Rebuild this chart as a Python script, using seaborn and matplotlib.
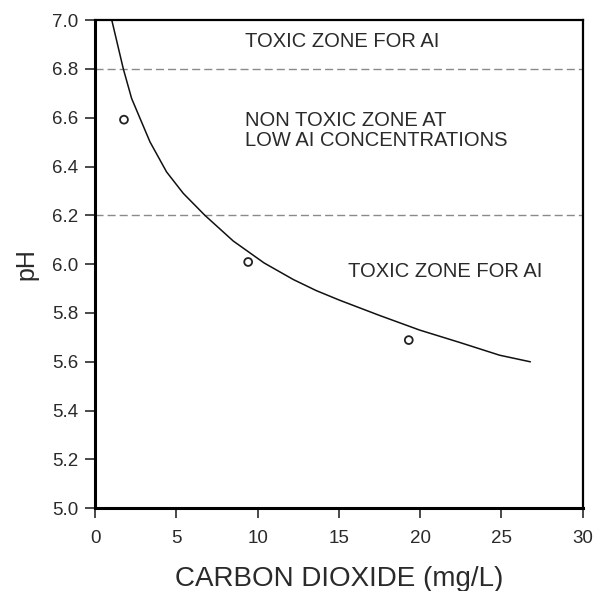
import pandas as pd
import matplotlib
matplotlib.use('Agg')
import matplotlib.pyplot as plt
import seaborn as sns

# Eğri değerleri
co2_curve = [1.03, 1.74, 2.25, 2.77, 3.38, 4.40, 5.43, 6.76, 8.50, 10.40, 12.2, 13.6,
             15.06, 17.5, 19.97, 22.4, 24.89, 26.78]
ph_curve = [7.00, 6.80, 6.679, 6.597, 6.501, 6.378, 6.29, 6.20, 6.095, 6.005, 5.937, 5.892,
            5.852, 5.79, 5.730, 5.68, 5.627, 5.600]

# Ölçülen noktalar
co2_points = [1.78, 9.42, 19.3]
ph_points = [6.592, 6.009, 5.689]

# Bölge sınırları ve yazılar
zone_limits = [6.8, 6.2]
zone_texts = ['TOXIC ZONE FOR AI', 'NON TOXIC ZONE AT\nLOW AI CONCENTRATIONS', 'TOXIC ZONE FOR AI']
zone_x = [9.2, 9.2, 15.55]
zone_y = [6.912, 6.549, 5.969]

curve = pd.DataFrame({'co2': co2_curve, 'ph': ph_curve})
points = pd.DataFrame({'co2': co2_points, 'ph': ph_points})

sns.set_style('ticks')
plt.rcParams['font.family'] = ['Liberation Sans', 'DejaVu Sans']

fig = plt.figure(figsize=(5.94, 5.91), dpi=100)
ax = fig.add_axes([0.16, 0.140, 0.821, 0.826])

for y in zone_limits:
    ax.axhline(y, color='#8a8a8a', linestyle=(0, (5.8, 2.9)), linewidth=1.0)

sns.lineplot(x='co2', y='ph', data=curve, ax=ax, color='#111111', linewidth=1.1, sort=False)
sns.scatterplot(x='co2', y='ph', data=points, ax=ax, marker='o', s=32,
                facecolor='none', edgecolor='#222222', linewidth=1.3)

for t, x, y in zip(zone_texts, zone_x, zone_y):
    ax.text(x, y, t, fontsize=14.5, color='#2a2a2a', va='center', ha='left', linespacing=1.05)

ax.set_xlim(0, 30)
ax.set_ylim(5.0, 7.0)
ax.set_xticks([0, 5, 10, 15, 20, 25, 30])
ax.set_yticks([5.0, 5.2, 5.4, 5.6, 5.8, 6.0, 6.2, 6.4, 6.6, 6.8, 7.0])
ax.set_yticklabels(['5.0', '5.2', '5.4', '5.6', '5.8', '6.0', '6.2', '6.4', '6.6', '6.8', '7.0'])
ax.tick_params(axis='y', direction='out', length=7, width=1.2, labelsize=13.5, colors='#2a2a2a', pad=5)
ax.tick_params(axis='x', direction='out', length=7, width=1.2, labelsize=13.5, colors='#2a2a2a', pad=9)
ax.set_xlabel('CARBON DIOXIDE (mg/L)', fontsize=20, color='#2a2a2a', labelpad=13)
ax.set_ylabel('pH', fontsize=18, color='#2a2a2a', labelpad=10)

for side in ['left', 'bottom']:
    ax.spines[side].set_linewidth(2.2)
for side in ['top', 'right']:
    ax.spines[side].set_linewidth(1.6)
for s in ax.spines.values():
    s.set_color('black')

fig.savefig('out.png', dpi=100, facecolor='white')
